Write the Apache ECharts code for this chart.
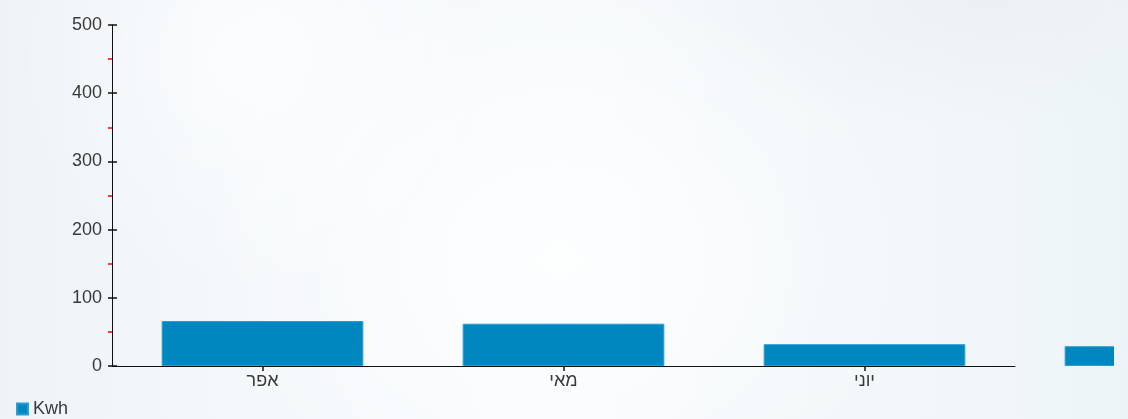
<!DOCTYPE html>
<html>
<head>
<meta charset="utf-8">
<script src="https://cdn.jsdelivr.net/npm/echarts@6/dist/echarts.min.js"></script>
<style>
html,body{margin:0;padding:0;width:1128px;height:419px;overflow:hidden;}
body{
  background:
    radial-gradient(ellipse 520px 420px at 560px 260px, rgba(255,255,255,0.75), rgba(255,255,255,0) 70%),
    radial-gradient(ellipse 300px 300px at 250px 60px, rgba(255,255,255,0.6), rgba(255,255,255,0) 80%),
    radial-gradient(ellipse 400px 160px at 980px 0px, rgba(235,240,244,0.9), rgba(235,240,244,0) 80%),
    linear-gradient(90deg, #edf3f7 0%, #f4f8fb 20%, #f7fafc 50%, #f2f7fa 80%, #edf4f8 100%);
}
#chart{position:absolute;left:0;top:0;width:1114px;height:419px;overflow:hidden;}
</style>
</head>
<body>
<div id="chart"></div>
<script>
var categories = ['אפר', 'מאי', 'יוני', 'יולי'];
var kwhValues = [66, 62, 32, 29];
var yTicks = { min: 0, max: 500, interval: 100 };
var seriesName = 'Kwh';

var font = 'Liberation Sans, Arial, sans-serif';
var chart = echarts.init(document.getElementById('chart'), null, {renderer: 'canvas'});
var baseY = {
  type: 'value', min: yTicks.min, max: yTicks.max, interval: yTicks.interval,
  splitLine: {show: false}
};
chart.setOption({
  backgroundColor: 'transparent',
  animation: false,
  grid: {left: 112, right: 99, top: 25, bottom: 53, containLabel: false},
  legend: {
    left: 11, bottom: -4, icon: 'rect', itemWidth: 11, itemHeight: 11, itemGap: 4,
    textStyle: {fontFamily: font, fontSize: 18, color: '#3a3a3a'},
    data: [seriesName]
  },
  xAxis: {
    type: 'category', data: categories, max: 2,
    axisLine: {lineStyle: {color: '#111', width: 1}},
    axisTick: {show: true, alignWithLabel: true, length: 5, lineStyle: {color: '#111', width: 1.5}},
    axisLabel: {fontFamily: font, fontSize: 18, color: '#3a3a3a', margin: 6, interval: 0}
  },
  yAxis: [
    Object.assign({}, baseY, {
      axisLine: {show: true, lineStyle: {color: '#111', width: 1}},
      axisTick: {show: true, inside: false, length: 4, lineStyle: {color: '#111', width: 1.5}},
      minorTick: {show: true, splitNumber: 2, length: 4, lineStyle: {color: '#ff0000', width: 1.5}},
      axisLabel: {fontFamily: font, fontSize: 18, color: '#3a3a3a', margin: 10}
    }),
    Object.assign({}, baseY, {
      position: 'left',
      axisLine: {show: false},
      axisTick: {show: true, inside: true, length: 5, lineStyle: {color: '#111', width: 1.5}},
      axisLabel: {show: false}
    })
  ],
  series: [{
    name: seriesName, type: 'bar', data: kwhValues, yAxisIndex: 0,
    barCategoryGap: '33%', clip: false,
    itemStyle: {color: '#0087c0', borderColor: '#2a9dd0', borderWidth: 1}
  }]
});
</script>
</body>
</html>
